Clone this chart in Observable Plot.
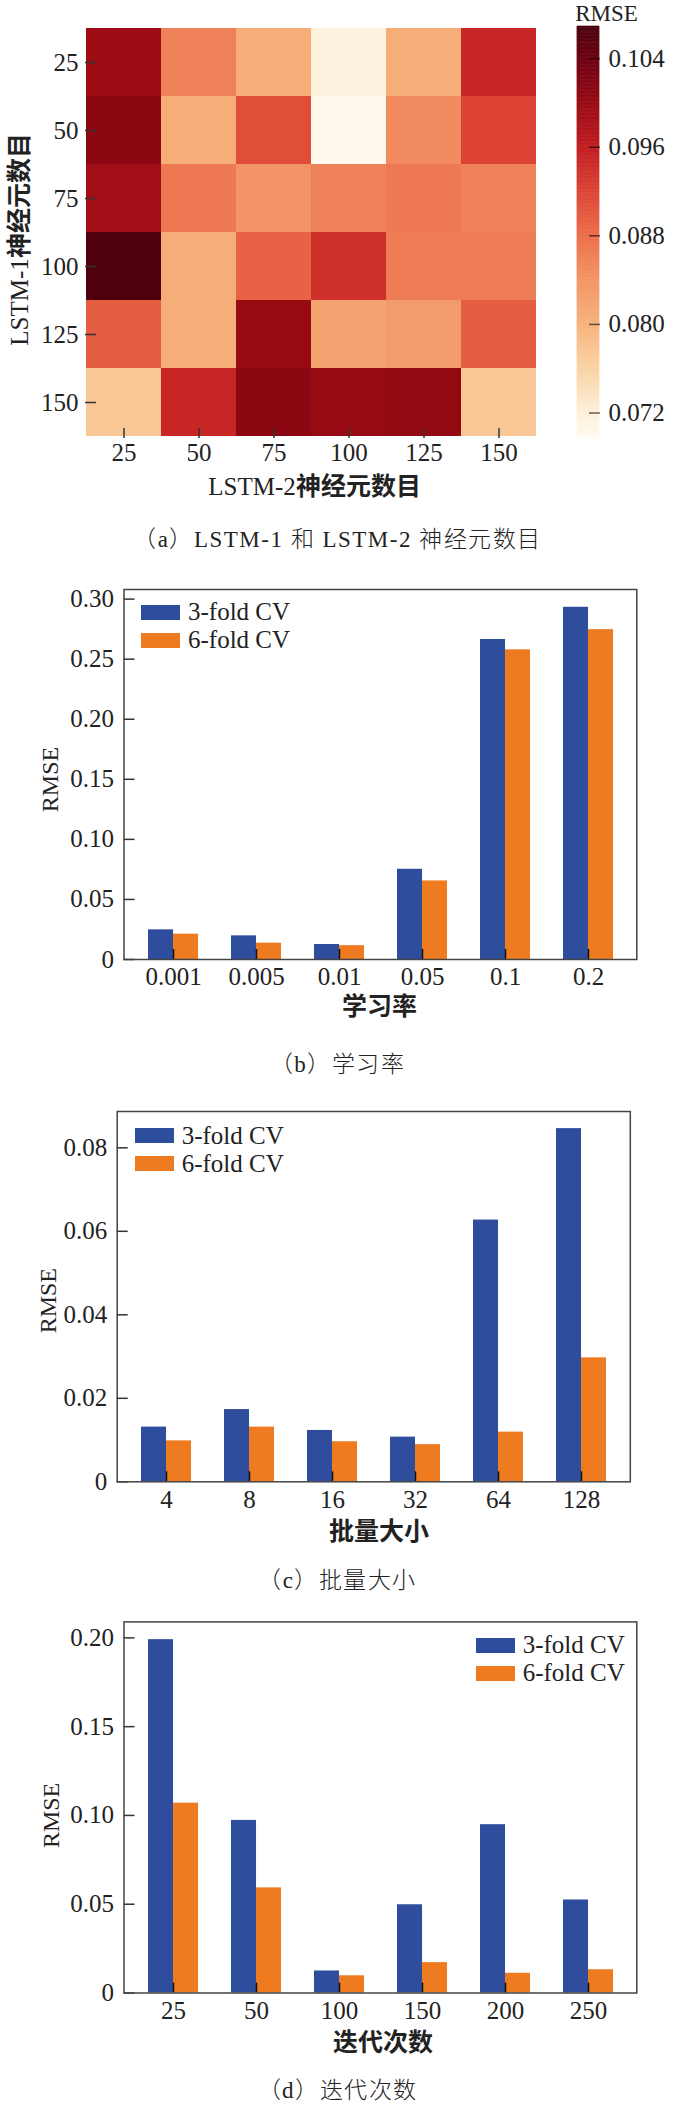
<!DOCTYPE html>
<html>
<head>
<meta charset="utf-8">
<script src="https://cdn.jsdelivr.net/npm/d3@7"></script>
<script src="https://cdn.jsdelivr.net/npm/@observablehq/plot@0.6"></script>
<style>
@font-face { font-family: "CJKB"; src: local("Noto Sans CJK SC Bold"), local("NotoSansCJKsc-Bold"); }
@font-face { font-family: "CJKL"; src: local("Noto Sans CJK SC Light"), local("NotoSansCJKsc-Light"), local("Noto Sans CJK SC DemiLight"), local("Noto Sans CJK SC"); }
body { margin: 0; background: #fff; }
#page { position: relative; width: 675px; height: 2107px; overflow: hidden; background: #fff; color: #222;
  font-family: 'Liberation Serif', 'Noto Sans CJK SC', serif; }
#page > svg, #page > div { position: absolute; }
.cap { left: 0; width: 675px; text-align: center; font-size: 23px; letter-spacing: 1.5px; line-height: 30px;
  font-family: 'Liberation Serif', CJKL, 'Noto Sans CJK SC', serif; color: #222; white-space: nowrap; }
.lg-swatches { font-family: 'Liberation Serif', serif !important; font-size: 25px !important; color: #222; margin: 0 !important; }
.lg-swatch { line-height: 28px !important; padding-bottom: 0 !important; margin: 0 !important; }
.lg-swatch > svg { margin-right: 8px !important; }
</style>
</head>
<body>
<div id="page"></div>
<script>
// ---------- data ----------
const seriesNames = ["3-fold CV", "6-fold CV"];
const blue = "#2e4d9c", orange = "#ef7b21";

// (a) heatmap: rows = LSTM-1 units, columns = LSTM-2 units
const hmRows = ["25", "50", "75", "100", "125", "150"];
const hmCols = ["25", "50", "75", "100", "125", "150"];
const hmRow25  = [0.0995, 0.0860, 0.0805, 0.0715, 0.0805, 0.0950];
const hmRow50  = [0.1010, 0.0805, 0.0910, 0.0700, 0.0850, 0.0920];
const hmRow75  = [0.0990, 0.0870, 0.0840, 0.0860, 0.0870, 0.0860];
const hmRow100 = [0.1065, 0.0805, 0.0890, 0.0940, 0.0865, 0.0865];
const hmRow125 = [0.0895, 0.0805, 0.1000, 0.0820, 0.0830, 0.0895];
const hmRow150 = [0.0775, 0.0950, 0.1010, 0.1000, 0.1005, 0.0775];
const cbDomain = [0.0697, 0.1069];
const cbTicks = [0.072, 0.080, 0.088, 0.096, 0.104];
const cmapStops  = [0.0697, 0.072, 0.076, 0.080, 0.084, 0.088, 0.092, 0.096, 0.100, 0.104, 0.1069];
const cmapColors = ["#fffbf0", "#fdf0d8", "#fad3a5", "#f6b27c", "#f29465", "#ec6e4a", "#dc4334", "#c01c20", "#980a12", "#6c0012", "#4a000c"];

// (b) learning rate
const lrCats = ["0.001", "0.005", "0.01", "0.05", "0.1", "0.2"];
const lr3 = [0.0247, 0.0197, 0.0125, 0.0751, 0.2664, 0.2932];
const lr6 = [0.0211, 0.0136, 0.0115, 0.0654, 0.2578, 0.2746];
const lrTicks = [0, 0.05, 0.10, 0.15, 0.20, 0.25, 0.30];

// (c) batch size
const bsCats = ["4", "8", "16", "32", "64", "128"];
const bs3 = [0.0131, 0.0173, 0.0123, 0.0107, 0.0627, 0.0846];
const bs6 = [0.0098, 0.0131, 0.0096, 0.0089, 0.0119, 0.0297];
const bsTicks = [0, 0.02, 0.04, 0.06, 0.08];

// (d) epochs
const epCats = ["25", "50", "100", "150", "200", "250"];
const ep3 = [0.1990, 0.0972, 0.0124, 0.0497, 0.0948, 0.0524];
const ep6 = [0.1069, 0.0592, 0.0097, 0.0171, 0.0111, 0.0131];
const epTicks = [0, 0.05, 0.10, 0.15, 0.20];

// ---------- helpers ----------
const page = document.getElementById("page");
const FONT = "'Liberation Serif', 'Noto Sans CJK SC', serif";
const FONT_B = "'Liberation Serif', CJKB, 'Noto Sans CJK SC', serif";
const baseStyle = {fontFamily: FONT, fontSize: "25px", color: "#222", background: "transparent", overflow: "visible"};
const yFmt = d => d === 0 ? "0" : d3.format(".2f")(d);
const centered = {textAnchor: "middle", lineAnchor: "middle"};

function place(el, left, top) {
  el.style.left = left + "px";
  el.style.top = top + "px";
  page.appendChild(el);
}
function caption(text, centerY) {
  const d = document.createElement("div");
  d.className = "cap";
  d.textContent = text;
  place(d, 0, centerY - 15);
}
function legend(left, top) {
  const lg = Plot.legend({
    color: {domain: seriesNames, range: [blue, orange], legend: "swatches", columns: 1, swatchWidth: 39, swatchHeight: 15, className: "lg"},
    legend: "swatches", columns: 1, swatchWidth: 39, swatchHeight: 15, className: "lg"
  });
  place(lg, left, top);
}

// ---------- (a) heatmap ----------
const hmMatrix = [hmRow25, hmRow50, hmRow75, hmRow100, hmRow125, hmRow150];
const hmData = hmRows.flatMap((r, i) => hmCols.map((c, j) => ({row: r, col: c, value: hmMatrix[i][j]})));
const colorOpts = {type: "linear", domain: cmapStops, range: cmapColors, clamp: true};

const heat = Plot.plot({
  width: 675, height: 500,
  marginLeft: 85, marginRight: 138, marginTop: 26, marginBottom: 62,
  style: baseStyle,
  x: {domain: hmCols, padding: 0, label: null},
  y: {domain: hmRows, padding: 0, label: null},
  color: colorOpts,
  marks: [
    Plot.cell(hmData, {x: "col", y: "row", fill: "value", inset: 0}),
    Plot.axisX({anchor: "bottom", tickSize: -10, tickPadding: 15, stroke: "#333", strokeWidth: 1.5, fill: "#222", label: null}),
    Plot.axisY({anchor: "left", tickSize: -11, tickPadding: 18, stroke: "#333", strokeWidth: 1.5, fill: "#222", label: null}),
    Plot.text(["LSTM-2神经元数目"], {text: d => d, frameAnchor: "bottom", dy: 48.5, dx: 3, fontFamily: FONT_B, fill: "#222", ...centered}),
    Plot.text(["LSTM-1神经元数目"], {text: d => d, frameAnchor: "left", rotate: -90, dx: -66, dy: 7, fontFamily: FONT_B, fill: "#222", ...centered})
  ]
});
place(heat, 0, 0);

// colorbar
const rampN = 300;
const ramp = d3.range(rampN).map(i => ({
  y1: cbDomain[0] + (cbDomain[1] - cbDomain[0]) * i / rampN,
  y2: cbDomain[0] + (cbDomain[1] - cbDomain[0]) * (i + 1) / rampN
}));
const cbar = Plot.plot({
  width: 115, height: 460,
  marginLeft: 17, marginRight: 76, marginTop: 26, marginBottom: 22,
  style: baseStyle,
  y: {domain: cbDomain, label: null},
  color: colorOpts,
  marks: [
    Plot.rect(ramp, {y1: "y1", y2: "y2", fill: d => (d.y1 + d.y2) / 2, stroke: d => (d.y1 + d.y2) / 2, strokeWidth: 0.6}),
    Plot.axisY({anchor: "right", ticks: cbTicks, tickFormat: d3.format(".3f"), tickSize: -11, tickPadding: 20,
      stroke: "#000", strokeOpacity: 0.6, strokeWidth: 1.5, fill: "#222", label: null}),
    Plot.text(["RMSE"], {text: d => d, frameAnchor: "top", dy: -13, dx: 18, fontSize: 23, fill: "#222", ...centered})
  ]
});
place(cbar, 560, 0);
caption("（a）LSTM-1 和 LSTM-2 神经元数目", 540);

// ---------- bar charts ----------
function barChart({cats, s3, s6, yDomain, yTicks, title, top, mt, mb, ml, mr, titleDy, titleDx, rmseDx, rmseDy}) {
  const height = 460;
  const pi = 0.4, po = 0.28;
  const plotW = 675 - ml - mr;
  const bw = plotW / (cats.length - pi + 2 * po) * (1 - pi);
  const d3f = cats.map((c, i) => ({cat: c, series: seriesNames[0], value: s3[i]}));
  const d6f = cats.map((c, i) => ({cat: c, series: seriesNames[1], value: s6[i]}));
  const chart = Plot.plot({
    width: 675, height,
    marginTop: mt, marginBottom: mb, marginLeft: ml, marginRight: mr,
    style: baseStyle,
    x: {domain: cats, paddingInner: pi, paddingOuter: po, label: null},
    y: {domain: yDomain, label: null},
    color: {domain: seriesNames, range: [blue, orange]},
    marks: [
      Plot.barY(d3f, {x: "cat", y: "value", fill: "series", insetRight: bw / 2}),
      Plot.barY(d6f, {x: "cat", y: "value", fill: "series", insetLeft: bw / 2}),
      Plot.axisX({anchor: "bottom", tickSize: -10, tickPadding: 18, stroke: "#111", strokeWidth: 1.5, fill: "#222", label: null}),
      Plot.axisY({anchor: "left", ticks: yTicks, tickFormat: yFmt, tickSize: -11, tickPadding: 21, stroke: "#333", strokeWidth: 1.5, fill: "#222", label: null}),
      Plot.frame({stroke: "#444", strokeWidth: 1.5}),
      Plot.text([title], {text: d => d, frameAnchor: "bottom", dy: titleDy, dx: titleDx, fontFamily: FONT_B, fill: "#222", ...centered}),
      Plot.text(["RMSE"], {text: d => d, frameAnchor: "left", rotate: -90, dx: rmseDx, dy: rmseDy, fontSize: 24, fill: "#222", ...centered})
    ]
  });
  place(chart, 0, top);
}

barChart({cats: lrCats, s3: lr3, s6: lr6, yDomain: [0, 0.308], yTicks: lrTicks, title: "学习率",
  top: 570, mt: 19, mb: 71, ml: 123.5, mr: 38.7, titleDy: 47.4, titleDx: -1, rmseDx: -73.5, rmseDy: 5});
legend(141, 598);
caption("（b）学习率", 1064.6);

barChart({cats: bsCats, s3: bs3, s6: bs6, yDomain: [0, 0.0887], yTicks: bsTicks, title: "批量大小",
  top: 1095, mt: 16, mb: 73.7, ml: 116.7, mr: 45.2, titleDy: 50.4, titleDx: 5, rmseDx: -69.3, rmseDy: 4});
legend(134.7, 1121.5);
caption("（c）批量大小", 1581.2);

barChart({cats: epCats, s3: ep3, s6: ep6, yDomain: [0, 0.209], yTicks: epTicks, title: "迭代次数",
  top: 1605, mt: 16.4, mb: 72.5, ml: 123.5, mr: 38.7, titleDy: 49.9, titleDx: 3, rmseDx: -73, rmseDy: 8});
legend(475.7, 1631);
caption("（d）迭代次数", 2090.6);
</script>
</body>
</html>
